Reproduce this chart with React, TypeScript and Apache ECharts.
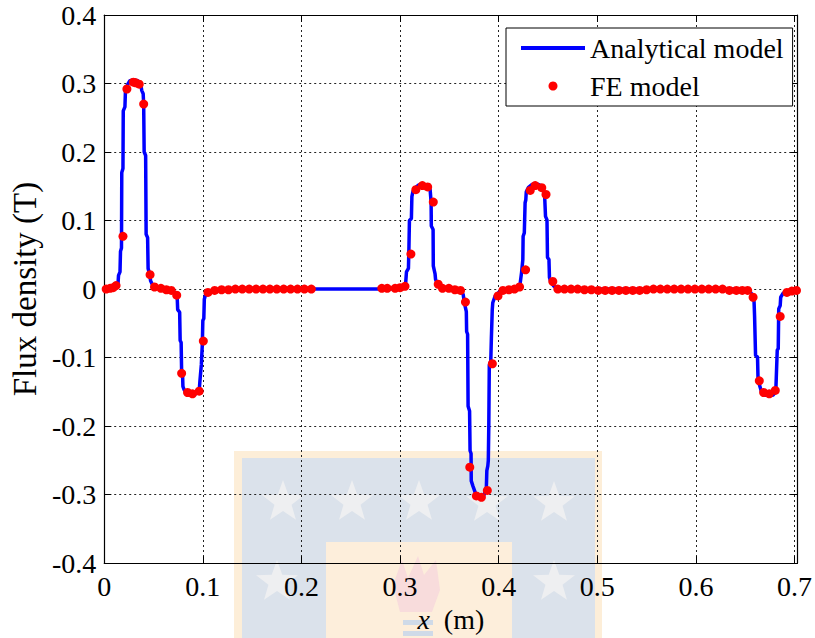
import React, { useEffect, useRef } from "react";
import * as echarts from "echarts";

// Analytical model: flux density (T) along x (m)
const analyticalX = [
  0, 0.01, 0.012, 0.014, 0.0145, 0.016, 0.0165, 0.0175, 0.0178, 0.019, 0.0193, 0.021, 0.0215, 0.0235, 0.026, 0.03,
  0.034, 0.037, 0.038, 0.0395, 0.04, 0.0405, 0.042, 0.0425, 0.044, 0.0445, 0.046, 0.047, 0.049, 0.052, 0.058,
  0.066, 0.07, 0.0725, 0.074, 0.0745, 0.0765, 0.077, 0.078, 0.0785, 0.0795, 0.0798, 0.081, 0.0835, 0.0875, 0.092,
  0.095, 0.0965, 0.097, 0.0985, 0.0995, 0.1, 0.101, 0.1015, 0.103, 0.106, 0.115, 0.13, 0.16, 0.2, 0.25, 0.29,
  0.295, 0.302, 0.3055, 0.3065, 0.3085, 0.309, 0.3095, 0.3115, 0.312, 0.313, 0.3155, 0.319, 0.324, 0.328, 0.3305,
  0.3315, 0.3317, 0.3335, 0.3337, 0.3355, 0.336, 0.339, 0.345, 0.355, 0.362, 0.364, 0.3655, 0.3672, 0.3675, 0.3685,
  0.369, 0.3705, 0.371, 0.372, 0.3722, 0.374, 0.377, 0.381, 0.385, 0.3875, 0.388, 0.389, 0.3895, 0.39, 0.3905,
  0.392, 0.3926, 0.3935, 0.394, 0.3965, 0.4, 0.405, 0.415, 0.419, 0.4215, 0.4232, 0.4245, 0.4248, 0.426, 0.4268,
  0.4275, 0.428, 0.43, 0.434, 0.44, 0.444, 0.4465, 0.4475, 0.449, 0.4495, 0.451, 0.4515, 0.453, 0.456, 0.462,
  0.47, 0.55, 0.6, 0.645, 0.648, 0.655, 0.658, 0.659, 0.6595, 0.6605, 0.6625, 0.663, 0.6645, 0.6665, 0.67, 0.678,
  0.681, 0.6815, 0.6825, 0.6835, 0.684, 0.6855, 0.686, 0.6885, 0.692, 0.703,
];
const analyticalY = [
  0, 0.002, 0.005, 0.008, 0.02, 0.025, 0.055, 0.06, 0.17, 0.176, 0.26, 0.266, 0.288, 0.298, 0.304, 0.305,
  0.304, 0.3, 0.29, 0.285, 0.27, 0.2, 0.195, 0.08, 0.075, 0.03, 0.022, 0.012, 0.006, 0.003, 0.001,
  -0.001, -0.003, -0.006, -0.012, -0.03, -0.034, -0.075, -0.078, -0.121, -0.127, -0.142, -0.147, -0.152, -0.155, -0.154,
  -0.15, -0.145, -0.135, -0.11, -0.08, -0.046, -0.043, -0.015, -0.007, -0.004, -0.002, -0.001, 0, 0, 0, 0,
  0.001, 0.002, 0.005, 0.025, 0.03, 0.06, 0.1, 0.103, 0.135, 0.142, 0.148, 0.152, 0.153, 0.151, 0.145,
  0.126, 0.092, 0.087, 0.034, 0.022, 0.014, 0.005, 0.002, 0, -0.002, -0.008, -0.022, -0.033, -0.062, -0.066,
  -0.171, -0.178, -0.236, -0.24, -0.28, -0.288, -0.3, -0.303, -0.301, -0.291, -0.265, -0.258, -0.25, -0.198, -0.111,
  -0.105, -0.072, -0.03, -0.02, -0.01, -0.005, -0.002, 0, 0.002, 0.005, 0.024, 0.043, 0.077, 0.082, 0.126,
  0.13, 0.142, 0.148, 0.153, 0.153, 0.15, 0.14, 0.106, 0.101, 0.046, 0.043, 0.017, 0.01, 0.004, 0.001,
  0, 0, 0, 0, -0.001, -0.004, -0.01, -0.019, -0.039, -0.097, -0.099, -0.13, -0.14, -0.15, -0.155, -0.155,
  -0.15, -0.13, -0.089, -0.087, -0.029, -0.024, -0.012, -0.006, -0.003, -0.002,
];

// FE model samples
const feX = [
  0.002, 0.006, 0.009, 0.012, 0.019, 0.023, 0.0295, 0.032, 0.0355, 0.04, 0.0465, 0.051, 0.0575, 0.063, 0.068,
  0.0735, 0.0785, 0.0845, 0.0895, 0.0963, 0.1005, 0.1052, 0.112, 0.119, 0.126, 0.133, 0.14, 0.147, 0.154, 0.161,
  0.168, 0.175, 0.182, 0.189, 0.196, 0.203, 0.21, 0.2815, 0.287, 0.295, 0.3, 0.305, 0.311, 0.316, 0.3226, 0.328,
  0.3337, 0.3387, 0.343, 0.3495, 0.3556, 0.3613, 0.3663, 0.3707, 0.3774, 0.3825, 0.3885, 0.3936, 0.3993, 0.4043,
  0.4104, 0.416, 0.4212, 0.4273, 0.432, 0.437, 0.4437, 0.448, 0.4549, 0.46, 0.4667, 0.4734, 0.4801, 0.487, 0.494,
  0.501, 0.508, 0.515, 0.522, 0.529, 0.536, 0.543, 0.55, 0.557, 0.564, 0.571, 0.578, 0.585, 0.592, 0.599, 0.606,
  0.613, 0.62, 0.627, 0.634, 0.641, 0.647, 0.6525, 0.658, 0.6643, 0.6687, 0.6744, 0.6805, 0.6855, 0.6923, 0.6973,
  0.702,
];
const feY = [
  0, 0.001, 0.002, 0.005, 0.077, 0.292, 0.302, 0.301, 0.299, 0.27, 0.021, 0.003, 0.001, -0.001, -0.002,
  -0.009, -0.123, -0.151, -0.153, -0.149, -0.076, -0.005, -0.002, -0.001, -0.001, 0, 0, 0, 0, 0,
  0, 0, 0, 0, 0, 0, 0, 0.001, 0.001, 0.001, 0.002, 0.004, 0.051, 0.145, 0.151, 0.149,
  0.127, 0.007, 0.001, 0.001, -0.001, -0.002, -0.019, -0.26, -0.302, -0.304, -0.294, -0.109, -0.01, -0.002,
  -0.001, 0, 0.003, 0.028, 0.144, 0.151, 0.148, 0.138, 0.011, 0, 0, 0, 0, -0.001, -0.001,
  -0.002, -0.002, -0.002, -0.002, -0.002, -0.002, -0.002, -0.001, 0, 0, 0, 0, 0, 0, 0, 0,
  0, 0, 0, -0.002, -0.002, -0.002, -0.002, -0.012, -0.134, -0.151, -0.153, -0.148, -0.04, -0.005, -0.003,
  -0.002,
];

const xTicks = ["0", "0.1", "0.2", "0.3", "0.4", "0.5", "0.6", "0.7"];
const yMin = -0.4;
const yMax = 0.4;
const xMin = 0;
const xMax = 0.703;

const FONT = "'Liberation Serif', 'DejaVu Serif', serif";
const FS = 28;

function starPoints(cx: number, cy: number, R: number, r: number) {
  const pts: number[][] = [];
  for (let i = 0; i < 10; i++) {
    const a = -Math.PI / 2 + (i * Math.PI) / 5;
    const rad = i % 2 === 0 ? R : r;
    pts.push([cx + rad * Math.cos(a), cy + rad * Math.sin(a)]);
  }
  return pts;
}

// Faint crest watermark behind the plot
function watermark() {
  const stars = [
    [283, 502], [352, 502], [419, 502], [487, 503], [554, 503],
    [277, 582], [554, 582],
  ];
  const els: any[] = [
    { type: "rect", z: -10, shape: { x: 234, y: 451, width: 368, height: 200 }, style: { fill: "#fdeed8" } },
    { type: "rect", z: -10, shape: { x: 242, y: 458, width: 353, height: 200 }, style: { fill: "#dbe2eb" } },
  ];
  stars.forEach(([cx, cy]) => {
    els.push({ type: "polygon", z: -10, shape: { points: starPoints(cx, cy, 22, 9) }, style: { fill: "#eeeff1" } });
  });
  els.push({ type: "rect", z: -10, shape: { x: 326, y: 542, width: 186, height: 110 }, style: { fill: "#fdeedb" } });
  els.push({
    type: "polygon", z: -10,
    shape: { points: [[400, 612], [393, 585], [402, 560], [408, 578], [418, 556], [424, 575], [436, 560], [440, 590], [432, 612]] },
    style: { fill: "#f8dcdc" },
  });
  els.push({ type: "rect", z: -10, shape: { x: 403, y: 620, width: 30, height: 5 }, style: { fill: "#cfdae8" } });
  els.push({ type: "rect", z: -10, shape: { x: 403, y: 631, width: 30, height: 5 }, style: { fill: "#cfdae8" } });
  return els;
}

export default function App() {
  const ref = useRef<HTMLDivElement>(null);

  useEffect(() => {
    if (!ref.current) return;
    const chart = echarts.init(ref.current, null, { renderer: "svg" });
    const lineData = analyticalX.map((x, i) => [x, analyticalY[i]]);
    const feData = feX.map((x, i) => [x, feY[i]]);
    const gridLine = { show: true, lineStyle: { color: "#222", width: 1, type: [2, 3] as any } };
    const axisLine = { show: true, onZero: false, lineStyle: { color: "#000", width: 1.2 } };
    const tick = { show: true, inside: true, length: 7, lineStyle: { color: "#000", width: 1 } };

    chart.setOption({
      animation: false,
      backgroundColor: "#fff",
      textStyle: { fontFamily: FONT },
      graphic: watermark(),
      grid: { left: 103, right: 17, top: 15, bottom: 72, containLabel: false },
      legend: {
        left: 506,
        top: 28,
        orient: "vertical",
        itemWidth: 64,
        itemHeight: 9,
        itemGap: 6,
        padding: [4, 9, 4, 13],
        borderColor: "#000",
        borderWidth: 1,
        borderRadius: 0,
        backgroundColor: "#fff",
        textStyle: { fontFamily: FONT, fontSize: FS, color: "#000", lineHeight: 32 },
        data: [
          {
            name: "Analytical model",
            itemStyle: { color: "rgba(0,0,0,0)", borderColor: "rgba(0,0,0,0)", borderWidth: 0 },
            lineStyle: { color: "#0000ff", width: 4 },
          },
          { name: "FE model" },
        ],
      },
      xAxis: [
        {
          type: "value",
          min: xMin,
          max: xMax,
          interval: 0.1,
          position: "bottom",
          axisLine,
          axisTick: tick,
          splitLine: gridLine,
          axisLabel: {
            color: "#000",
            fontFamily: FONT,
            fontSize: FS,
            margin: 9,
            showMaxLabel: false,
            formatter: (v: number) => xTicks[Math.round(v * 10)] ?? "",
          },
          name: "{i|x}  (m)",
          nameLocation: "middle",
          nameGap: 38,
          nameTextStyle: {
            fontFamily: FONT,
            fontSize: FS,
            color: "#000",
            rich: { i: { fontFamily: FONT, fontSize: FS, fontStyle: "italic", color: "#000" } },
          },
        },
        {
          type: "value",
          min: xMin,
          max: xMax,
          interval: 0.1,
          position: "top",
          axisLine,
          axisTick: tick,
          splitLine: { show: false },
          axisLabel: { show: false },
        },
      ],
      yAxis: [
        {
          type: "value",
          min: yMin,
          max: yMax,
          interval: 0.1,
          position: "left",
          axisLine,
          axisTick: tick,
          splitLine: gridLine,
          axisLabel: {
            color: "#000",
            fontFamily: FONT,
            fontSize: FS,
            margin: 8,
            formatter: (v: number) => {
              const r = Math.round(v * 10) / 10;
              return r === 0 ? "0" : r.toFixed(1);
            },
          },
          name: "Flux density (T)",
          nameLocation: "middle",
          nameGap: 57,
          nameTextStyle: { fontFamily: FONT, fontSize: 33, color: "#000" },
        },
        {
          type: "value",
          min: yMin,
          max: yMax,
          interval: 0.1,
          position: "right",
          axisLine,
          axisTick: tick,
          splitLine: { show: false },
          axisLabel: { show: false },
        },
      ],
      series: [
        {
          name: "Analytical model",
          type: "line",
          data: lineData,
          symbol: "none",
          showSymbol: false,
          lineStyle: { color: "#0000ff", width: 3.5 },
          itemStyle: { color: "#0000ff" },
          z: 3,
        },
        {
          name: "FE model",
          type: "scatter",
          data: feData,
          symbol: "circle",
          symbolSize: 9,
          itemStyle: { color: "#ff0000", opacity: 1 },
          z: 4,
        },
      ],
    });
    return () => chart.dispose();
  }, []);

  return (
    <div
      ref={ref}
      style={{ position: "fixed", left: 0, top: 0, width: 815, height: 638, background: "#fff" }}
    />
  );
}
